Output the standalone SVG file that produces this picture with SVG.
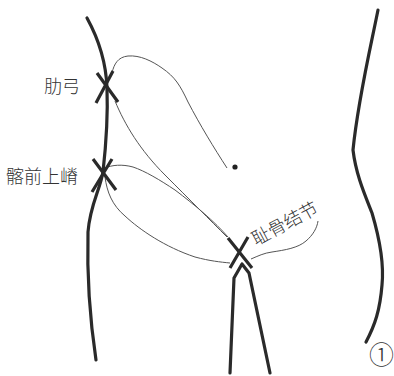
<svg xmlns="http://www.w3.org/2000/svg" width="394" height="376" viewBox="0 0 394 376">
  <style>
    .body { fill: none; stroke: #2a2a2a; stroke-width: 3.2; stroke-linecap: round; stroke-linejoin: round; }
    .mark { fill: none; stroke: #2a2a2a; stroke-width: 3.2; stroke-linecap: butt; }
    .thin { fill: none; stroke: #555; stroke-width: 1; }
    .label { font-family: "Noto Sans CJK SC", "Noto Sans", sans-serif; font-size: 18px; font-weight: 300; fill: #333; }
  </style>
  <rect width="394" height="376" fill="#fff"/>

  <!-- body outlines -->
  <g id="outline">
    <path class="body" d="M87,18 C98,38 106,60 107,88 C108,115 106,145 103,172 C100,190 90,205 88,232 C87,270 90,320 96,360"/>
    <path class="body" d="M378,10 C370,50 358,100 353,150 C356,175 365,195 372,213 C380,240 384,265 382,285 C380,310 375,325 366,342"/>
    <path class="body" d="M230,373 L234,278 L242,264 L249,273 L270,373"/>
  </g>

  <!-- connectors -->
  <g id="connectors">
    <path class="thin" d="M112,73 C114,64 118,57 128,56 C140,55 152,61 162,68 C175,77 180,85 188,102 C200,125 214,148 227,168"/>
    <path class="thin" d="M115,101 C125,125 140,150 165,175 C190,200 210,220 227,237"/>
    <path class="thin" d="M105,168 C112,165 122,164 133,167 C145,171 160,180 175,190 C195,205 215,222 228,237"/>
    <path class="thin" d="M105,177 C107,192 112,205 125,216 C140,230 165,247 195,257 C210,261 220,262 230,263"/>
    <path class="thin" d="M251,259 C258,256 264,253 272,252 C285,250 298,248 306,241 C313,235 317,228 318,221"/>
  </g>

  <!-- crosses marking the landmarks -->
  <g id="rib-arch">
    <path class="mark" d="M97,73 L118,102 M113,71 L96,103"/>
    <text class="label" x="44" y="93">肋弓</text>
  </g>
  <g id="asis">
    <path class="mark" d="M93,159 L116,190 M112,159 L92,192"/>
    <text class="label" x="6" y="183">髂前上嵴</text>
  </g>
  <g id="pubic-tubercle">
    <path class="mark" d="M228,238 L252,268 M248,237 L230,268"/>
    <text class="label" transform="translate(256,246) rotate(-28)">耻骨结节</text>
  </g>
  <g id="umbilicus">
    <circle cx="235" cy="167" r="2.6" fill="#222"/>
  </g>
  <g id="figure-number">
    <text class="label" x="369" y="364" style="font-size:25px">①</text>
  </g>
</svg>
